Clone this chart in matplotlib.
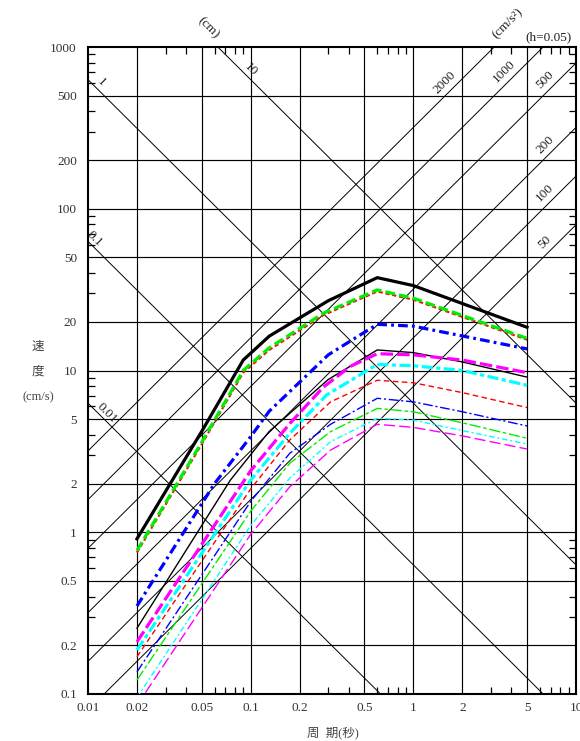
import numpy as np
import matplotlib
matplotlib.use("Agg")
import matplotlib.pyplot as plt
from matplotlib.ticker import FixedLocator, NullFormatter

plt.rcParams['font.family'] = ['Liberation Serif', 'Noto Sans CJK JP', 'DejaVu Sans']
plt.rcParams['lines.scale_dashes'] = False

# ---- axis ticks / labels ----
x_major = [0.01, 0.02, 0.05, 0.1, 0.2, 0.5, 1, 2, 5, 10]
x_labels = ["0.01", "0.02", "0.05", "0.1", "0.2", "0.5", "1", "2", "5", "10"]
y_major = [0.1, 0.2, 0.5, 1, 2, 5, 10, 20, 50, 100, 200, 500, 1000]
y_labels = ["0.1", "0.2", "0.5", "1", "2", "5", "10", "20", "50", "100", "200", "500", "1000"]
minor_mult = [3, 4, 6, 7, 8, 9]

# tripartite guide lines
disp_levels = [0.01, 0.1, 1, 10]                # cm
disp_labels = ["0.01", "0.1", "1", "10"]
acc_levels = [50, 100, 200, 500, 1000, 2000]    # cm/s^2
acc_labels = ["50", "100", "200", "500", "1000", "2000"]

# ---- response spectra (period s, velocity cm/s) ----
black_thick_T = [0.02, 0.05, 0.09, 0.13, 0.3, 0.6, 1.0, 5.0]
black_thick_V = [0.91, 4.2, 11.6, 16.3, 27.0, 37.5, 33.5, 18.5]

green_thick_T = [0.02, 0.05, 0.09, 0.13, 0.28, 0.6, 1.0, 5.0]
green_thick_V = [0.77, 3.6, 10.0, 13.8, 22.6, 31.5, 28.0, 15.8]

red_thick_T = [0.02, 0.05, 0.09, 0.13, 0.28, 0.6, 1.0, 5.0]
red_thick_V = [0.75, 3.5, 9.7, 13.4, 22.0, 30.8, 27.4, 15.5]

blue_thick_T = [0.02, 0.06, 0.1, 0.13, 0.3, 0.6, 1.0, 5.0]
blue_thick_V = [0.35, 2.0, 3.9, 5.6, 12.5, 19.3, 18.8, 13.6]

magenta_thick_T = [0.02, 0.1, 0.174, 0.28, 0.41, 0.6, 1.0, 2.0, 5.0]
magenta_thick_V = [0.21, 2.4, 4.7, 7.9, 10.6, 12.7, 12.5, 11.6, 9.7]

cyan_thick_T = [0.02, 0.1, 0.174, 0.293, 0.6, 1.0, 2.0, 5.0]
cyan_thick_V = [0.187, 2.1, 4.09, 7.06, 10.9, 10.7, 10.0, 8.1]

black_thin_T = [0.02, 0.075, 0.13, 0.3, 0.6, 1.0, 2.0, 5.0]
black_thin_V = [0.255, 2.1, 4.2, 8.8, 13.4, 12.9, 11.3, 9.1]

thin_T = [0.02, 0.1, 0.174, 0.31, 0.6, 1.0, 2.0, 5.0]
red_thin_V = [0.17, 1.85, 3.72, 6.4, 8.7, 8.4, 7.3, 5.9]
blue_thin_V = [0.137, 1.55, 3.08, 4.65, 6.73, 6.4, 5.56, 4.54]
green_thin_V = [0.122, 1.35, 2.67, 4.19, 5.83, 5.56, 4.75, 3.81]
cyan_thin_V = [0.095, 1.1, 2.16, 3.63, 5.06, 4.94, 4.25, 3.51]
magenta_thin_V = [0.085, 0.97, 1.91, 3.22, 4.65, 4.45, 3.94, 3.27]

fig = plt.figure(figsize=(5.8, 7.41), dpi=100)
ax = fig.add_axes([88 / 580, 1 - 694 / 741, 488 / 580, 647 / 741])
ax.set_xscale('log')
ax.set_yscale('log')
ax.set_xlim(0.01, 10)
ax.set_ylim(0.1, 1000)

# grid
for xv in x_major[1:-1]:
    ax.axvline(xv, color='black', lw=0.85, zorder=1)
for yv in y_major[1:-1]:
    ax.axhline(yv, color='black', lw=0.85, zorder=1)

# displacement and acceleration guide lines
T = np.logspace(-2, 1, 400)
for d in disp_levels:
    ax.plot(T, 2 * np.pi * d / T, color='black', lw=0.7, zorder=1)
for a in acc_levels:
    ax.plot(T, a * T / (2 * np.pi), color='black', lw=0.7, zorder=1)

# guide line labels
disp_label_T = [0.0124, 0.0104, 0.0113, 0.094]
for d, lab, tl in zip(disp_levels, disp_labels, disp_label_T):
    ax.annotate(lab, xy=(tl, 2 * np.pi * d / tl), xytext=(3, 4), textcoords='offset points',
                rotation=-45, ha='center', va='center', fontsize=9.5, color='#222222',
                rotation_mode='anchor')
acc_label_T = [7.1, 7.1, 7.1, 7.1, 4.0, 1.72]
for a, lab, tl in zip(acc_levels, acc_labels, acc_label_T):
    ax.annotate(lab, xy=(tl, a * tl / (2 * np.pi)), xytext=(-5, 5), textcoords='offset points',
                rotation=45, ha='center', va='center', fontsize=9.5, color='#222222',
                rotation_mode='anchor')

fig.text(208 / 580, 1 - 28 / 741, "(cm)", rotation=-45, ha='center', va='center',
         fontsize=9.5, color='#222222')
fig.text(508 / 580, 1 - 24 / 741, "(cm/s²)", rotation=45, ha='center', va='center',
         fontsize=9.5, color='#222222')
fig.text(548 / 580, 1 - 37 / 741, "(h=0.05)", ha='center', va='center',
         fontsize=9.5, color='#222222')

# spectra - thin
ax.plot(black_thin_T, black_thin_V, color='black', lw=1.0, zorder=3)
ax.plot(thin_T, red_thin_V, color='red', lw=1.0, ls=(0, (4, 2.5)), zorder=3)
ax.plot(thin_T, blue_thin_V, color='blue', lw=1.0, ls=(0, (7, 2, 1.5, 2)), zorder=3)
ax.plot(thin_T, green_thin_V, color='#00ee00', lw=1.0, ls=(0, (8, 2, 2.5, 2)), zorder=3)
ax.plot(thin_T, cyan_thin_V, color='cyan', lw=1.0, ls=(0, (4, 2, 1.5, 2)), zorder=3)
ax.plot(thin_T, magenta_thin_V, color='magenta', lw=1.0, ls=(0, (8, 3)), zorder=3)

# spectra - thick
ax.plot(cyan_thick_T, cyan_thick_V, color='cyan', lw=2.3, ls=(0, (8, 2.5, 3, 2.5)), zorder=4)
ax.plot(magenta_thick_T, magenta_thick_V, color='magenta', lw=2.3, ls=(0, (9, 3)), zorder=4)
ax.plot(blue_thick_T, blue_thick_V, color='blue', lw=2.3, ls=(0, (7, 3, 2, 3)), zorder=4)
ax.plot(red_thick_T, red_thick_V, color='red', lw=1.5, ls=(0, (3, 2)), zorder=4)
ax.plot(green_thick_T, green_thick_V, color='#00ee00', lw=2.3, ls=(0, (7, 3)), zorder=5)
ax.plot(black_thick_T, black_thick_V, color='black', lw=2.3, zorder=5)

# ticks
ax.xaxis.set_major_locator(FixedLocator(x_major))
ax.set_xticklabels(x_labels)
ax.yaxis.set_major_locator(FixedLocator(y_major))
ax.set_yticklabels(y_labels)
x_minor = [m * 10.0 ** e for e in (-2, -1, 0) for m in minor_mult]
y_minor = [m * 10.0 ** e for e in (-1, 0, 1, 2) for m in minor_mult]
ax.xaxis.set_minor_locator(FixedLocator(x_minor))
ax.yaxis.set_minor_locator(FixedLocator(y_minor))
ax.xaxis.set_minor_formatter(NullFormatter())
ax.yaxis.set_minor_formatter(NullFormatter())
ax.tick_params(which='major', length=0, labelsize=9.5, labelcolor='#333333')
ax.tick_params(axis='x', which='major', pad=6)
ax.tick_params(axis='y', which='major', pad=8)
ax.tick_params(which='minor', direction='in', length=5, width=0.9,
               top=True, right=True, bottom=True, left=True)
for sp in ax.spines.values():
    sp.set_linewidth(1.5)

# axis titles
fig.text(38 / 580, 1 - 347 / 741, "速", ha='center', va='center', fontsize=9, color='#444444')
fig.text(38 / 580, 1 - 372 / 741, "度", ha='center', va='center', fontsize=9, color='#444444')
fig.text(38 / 580, 1 - 397 / 741, "(cm/s)", ha='center', va='center', fontsize=9, color='#444444')
fig.text(333 / 580, 1 - 733 / 741, "周  期(秒)", ha='center', va='center', fontsize=9, color='#444444')

fig.savefig("out.png", dpi=100)
